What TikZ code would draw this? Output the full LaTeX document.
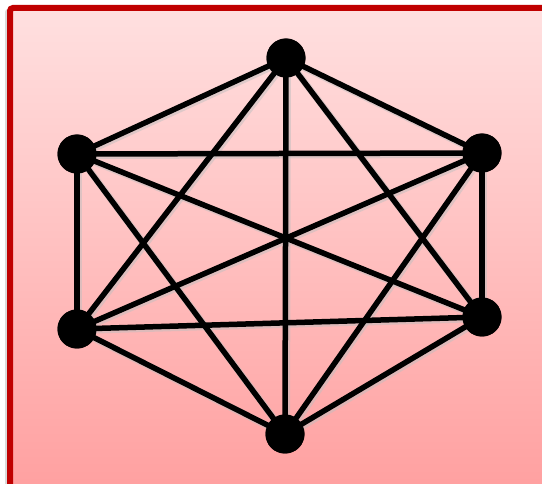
\documentclass[tikz,border=0pt]{standalone}
\begin{document}
\begin{tikzpicture}[x=1pt,y=-1pt,
  vertex/.style={circle,fill=black,minimum size=39pt,inner sep=0pt},
  edge/.style={line width=5.5pt,black},
  shadowedge/.style={line width=7pt,black!25,opacity=0.5}]
\definecolor{frame}{HTML}{C00000}
\definecolor{topfill}{HTML}{FFE0E0}
\definecolor{botfill}{HTML}{FFA0A0}
\useasboundingbox (0,0) rectangle (542,484);
\begin{scope}
\clip (0,0) rectangle (542,484);
% frame shadow
\fill[black!15,rounded corners=3pt] (5,9) rectangle (552,494);
\shade[top color=topfill,bottom color=botfill,rounded corners=3pt] (10,8) rectangle (548,490);
\draw[frame,line width=6pt,rounded corners=3pt] (10,8) rectangle (548,490);
\end{scope}
\node[vertex] (t)  at (286,58) {};
\node[vertex] (ul) at (77,154) {};
\node[vertex] (ur) at (482,153) {};
\node[vertex] (ll) at (77,329) {};
\node[vertex] (lr) at (482,317) {};
\node[vertex] (b)  at (285,434) {};
\begin{scope}[transform canvas={xshift=1.5pt,yshift=-1.5pt}]
\foreach \a/\b in {t/ul,t/ur,t/ll,t/lr,t/b,ul/ur,ul/ll,ul/lr,ul/b,ur/ll,ur/lr,ur/b,ll/lr,ll/b,lr/b}
  \draw[shadowedge] (\a.center) -- (\b.center);
\end{scope}
\foreach \a/\b in {t/ul,t/ur,t/ll,t/lr,t/b,ul/ur,ul/ll,ul/lr,ul/b,ur/ll,ur/lr,ur/b,ll/lr,ll/b,lr/b}
  \draw[edge] (\a.center) -- (\b.center);
\foreach \n/\x/\y in {t/286/58,ul/77/154,ur/482/153,ll/77/329,lr/482/317,b/285/434}
  \node[vertex] at (\x,\y) {};
\end{tikzpicture}
\end{document}
